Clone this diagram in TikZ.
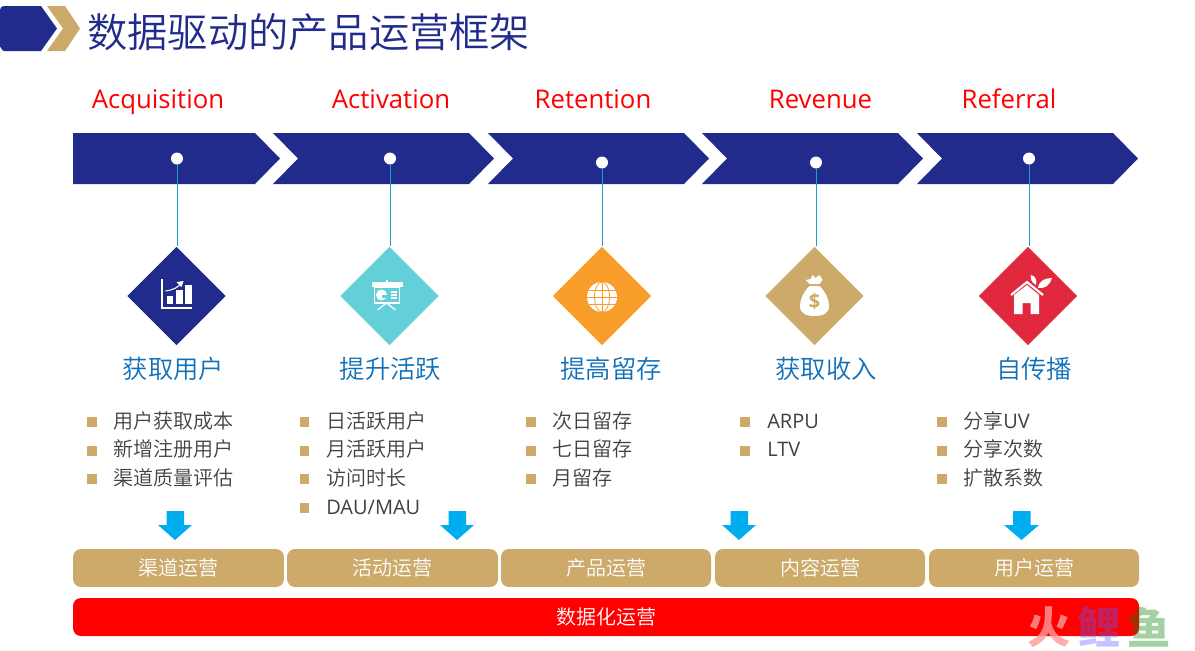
\documentclass[tikz,border=0pt]{standalone}
\usepackage{fontspec}
\setmainfont{Noto Sans CJK SC DemiLight}
\newfontfamily\latinfont{Open Sans}
\newfontfamily\markfont{Noto Sans CJK SC Black}
\usetikzlibrary{shapes.geometric}
\definecolor{navy}{HTML}{212B8B}
\definecolor{gold}{HTML}{CDA96A}
\definecolor{teal}{HTML}{62CFD9}
\definecolor{amber}{HTML}{F99D2A}
\definecolor{rose}{HTML}{E2283C}
\definecolor{skyblue}{HTML}{00ADEF}
\definecolor{linkblue}{HTML}{1C9FC8}
\definecolor{headblue}{HTML}{0F6FB7}
\definecolor{itemgray}{HTML}{404040}
\tikzset{
  stagelabel/.style={anchor=base, text=red, font=\latinfont\fontsize{19.3}{24}\selectfont},
  dotnode/.style={circle, fill=white, inner sep=0pt, minimum size=9pt},
  iconbox/.style={diamond, aspect=1, inner sep=0pt, minimum size=74pt},
  headlabel/.style={text=headblue, font=\fontsize{19}{22}\selectfont},
  bulletbox/.style={fill=gold, inner sep=0pt, minimum size=6.8pt},
  itemlabel/.style={anchor=west, inner sep=0pt, text=itemgray, font=\fontsize{15}{18}\selectfont},
  barbox/.style={fill=gold, rounded corners=6pt, inner sep=0pt, minimum height=28.5pt, text=white, font=\fontsize{15}{18}\selectfont},
  downarrow/.style={fill=skyblue},
  linkline/.style={draw=linkblue, line width=0.7pt},
  markchar/.style={inner sep=0pt, font=\markfont\fontsize{32.5}{36}\selectfont}
}
\begin{document}
\begin{tikzpicture}[x=0.75pt,y=-0.75pt]
  \useasboundingbox (0,0) rectangle (1195,650);
  % title
  \fill[navy] (4,6) -- (41,6) -- (57,28.5) -- (41,51) -- (4,51) to[out=180,in=90] (0,47) -- (0,10) to[out=90,in=180] (4,6) -- cycle;
  \fill[gold] (47,6) -- (65,6) -- (80,28.5) -- (65,51) -- (47,51) -- (63,28.5) -- cycle;
  \node[anchor=west, inner sep=0pt, text=navy, font=\fontsize{30.2}{34}\selectfont] (title) at (87,32) {数据驱动的产品运营框架};
  % stage names
  \node[stagelabel] (acq) at (158,108) {Acquisition};
  \node[stagelabel] (act) at (391,108) {Activation};
  \node[stagelabel] (ret) at (593,108) {Retention};
  \node[stagelabel] (rev) at (820.5,108) {Revenue};
  \node[stagelabel] (ref) at (1009,108) {Referral};
  % chevrons
  \fill[navy] (73,133) -- (255,133) -- (280,158.5) -- (255,184) -- (73,184) -- cycle;
  \fill[navy] (273,133) -- (469,133) -- (494,158.5) -- (469,184) -- (273,184) -- (298,158.5) -- cycle;
  \fill[navy] (488,133) -- (684,133) -- (709,158.5) -- (684,184) -- (488,184) -- (513,158.5) -- cycle;
  \fill[navy] (702,133) -- (898,133) -- (923,158.5) -- (898,184) -- (702,184) -- (727,158.5) -- cycle;
  \fill[navy] (917,133) -- (1113,133) -- (1138,158.5) -- (1113,184) -- (917,184) -- (942,158.5) -- cycle;
  % dots
  \node[dotnode] (dota) at (177,158.5) {};
  \node[dotnode] (dotb) at (390,158.5) {};
  \node[dotnode] (dotc) at (602,162.5) {};
  \node[dotnode] (dotd) at (816,162.5) {};
  \node[dotnode] (dote) at (1029,158.5) {};
  % diamonds
  \node[iconbox, fill=navy] (icona) at (176.5,296) {};
  \node[iconbox, fill=teal] (iconb) at (389.5,296) {};
  \node[iconbox, fill=amber] (iconc) at (602,296) {};
  \node[iconbox, fill=gold] (icond) at (814.5,296) {};
  \node[iconbox, fill=rose] (icone) at (1028,296) {};
  \draw[linkline] (dota) -- (dota |- icona.north);
  \draw[linkline] (dotb) -- (dotb |- iconb.north);
  \draw[linkline] (dotc) -- (dotc |- iconc.north);
  \draw[linkline] (dotd) -- (dotd |- icond.north);
  \draw[linkline] (dote) -- (dote |- icone.north);
  % chart icon
  \begin{scope}[shift={(icona)}]
  \draw[white, line width=1.5pt] (-15,-17) -- (-15,12) -- (15,12);
  \fill[white] (-10,0) rectangle (-4,8);
  \fill[white] (-1,-6) rectangle (6,8);
  \fill[white] (8,-11) rectangle (15,8);
  \draw[white, line width=0.8pt] (-11,-5) .. controls (-3,-6) and (2,-9) .. (5,-13);
  \fill[white] (7,-15) -- (0,-14) -- (5,-9) -- cycle;
  \end{scope}
  % screen icon
  \begin{scope}[shift={(iconb)}]
  \fill[white] (-18,-14) rectangle (13,-9);
  \fill[white] (-3.2,-16) rectangle (-1.8,-14);
  \draw[white, line width=1pt] (-15,-9) rectangle (10,7);
  \fill[white] (-8,-1) circle (5.5);
  \fill[teal] (-8,-1) rectangle (-2,2);
  \fill[white] (1,-5) rectangle (7,-3.4);
  \fill[white] (1,-2) rectangle (7,-0.4);
  \fill[white] (1,1) rectangle (7,2.6);
  \draw[white, line width=0.9pt] (-3,7) -- (-12,14);
  \draw[white, line width=0.9pt] (-3,7) -- (6,14);
  \end{scope}
  % globe icon
  \begin{scope}[shift={(iconc)}]
  \fill[white] (0,1) circle (15);
  \draw[amber, line width=0.6pt] (0,1) ellipse (7.5 and 15);
  \draw[amber, line width=0.6pt] (0,-14) -- (0,16);
  \draw[amber, line width=0.6pt] (-15,1) -- (15,1);
  \draw[amber, line width=0.6pt] (-13.5,-6) -- (13.5,-6);
  \draw[amber, line width=0.6pt] (-13.5,8) -- (13.5,8);
  \end{scope}
  % bag icon
  \begin{scope}[shift={(icond)}]
  \fill[white] (-5,-10) .. controls (-11,-4) and (-14.5,3) .. (-14.5,10) .. controls (-14.5,17) and (-9,20) .. (0,20) .. controls (9,20) and (14.5,17) .. (14.5,10) .. controls (14.5,3) and (11,-4) .. (5,-10) -- cycle;
  \fill[white] (-5,-12) -- (-9,-16) -- (-4,-17) -- (-2,-21) -- (1,-18) -- (5,-21) -- (8,-16) -- (5,-12) -- cycle;
  \node[text=gold, inner sep=0pt, font=\latinfont\bfseries\fontsize{15}{16}\selectfont] (dollar) at (0,5) {\$};
  \end{scope}
  % house icon
  \begin{scope}[shift={(icone)}]
  \draw[white, line width=1.6pt] (-17,-1) -- (-1,-14) -- (15,-1);
  \fill[white] (-14,-1) -- (-1,-11) -- (11,-1) -- (11,18) -- (2.5,18) -- (2.5,7) -- (-5.5,7) -- (-5.5,18) -- (-14,18) -- cycle;
  \fill[white] (3,-21) .. controls (8,-20) and (9,-15) .. (8,-11) .. controls (4,-13) and (2,-17) .. (3,-21) -- cycle;
  \fill[white] (24,-18) .. controls (18,-18) and (11,-16) .. (10,-8) .. controls (17,-7) and (22,-11) .. (24,-18) -- cycle;
  \end{scope}
  % headings
  \node[headlabel] (heada) at (173.5,369) {获取用户};
  \node[headlabel] (headb) at (390.5,369) {提升活跃};
  \node[headlabel] (headc) at (611,369) {提高留存};
  \node[headlabel] (headd) at (826,369) {获取收入};
  \node[headlabel] (heade) at (1034,369) {自传播};
  % lists
  \node[bulletbox] (ba1) at (92,422) {};
  \node[bulletbox] (ba2) at (92,451) {};
  \node[bulletbox] (ba3) at (92,479) {};
  \node[itemlabel] (ia1) at (113,421) {用户获取成本};
  \node[itemlabel] (ia2) at (113,449) {新增注册用户};
  \node[itemlabel] (ia3) at (113,478) {渠道质量评估};
  \node[bulletbox] (bb1) at (304.5,422) {};
  \node[bulletbox] (bb2) at (304.5,451) {};
  \node[bulletbox] (bb3) at (304.5,479) {};
  \node[bulletbox] (bb4) at (304.5,508) {};
  \node[itemlabel] (ib1) at (326,421) {日活跃用户};
  \node[itemlabel] (ib2) at (326,449) {月活跃用户};
  \node[itemlabel] (ib3) at (326,478) {访问时长};
  \node[itemlabel] (ib4) at (326,507) {\latinfont DAU/MAU};
  \node[bulletbox] (bc1) at (531,422) {};
  \node[bulletbox] (bc2) at (531,451) {};
  \node[bulletbox] (bc3) at (531,479) {};
  \node[itemlabel] (ic1) at (552,421) {次日留存};
  \node[itemlabel] (ic2) at (552,449) {七日留存};
  \node[itemlabel] (ic3) at (552,478) {月留存};
  \node[bulletbox] (bd1) at (745,422) {};
  \node[bulletbox] (bd2) at (745,451) {};
  \node[itemlabel] (id1) at (767,421) {\latinfont ARPU};
  \node[itemlabel] (id2) at (767,449) {\latinfont LTV};
  \node[bulletbox] (be1) at (942,422) {};
  \node[bulletbox] (be2) at (942,451) {};
  \node[bulletbox] (be3) at (942,479) {};
  \node[itemlabel] (ie1) at (963,421) {分享{\latinfont UV}};
  \node[itemlabel] (ie2) at (963,449) {分享次数};
  \node[itemlabel] (ie3) at (963,478) {扩散系数};
  % blue arrows
  \fill[downarrow] (166.5,511) -- (184,511) -- (184,525) -- (192,525) -- (175,540) -- (158,525) -- (166.5,525) -- cycle;
  \fill[downarrow] (448.5,511) -- (466,511) -- (466,525) -- (474,525) -- (457,540) -- (440,525) -- (448.5,525) -- cycle;
  \fill[downarrow] (730.5,511) -- (748,511) -- (748,525) -- (756,525) -- (739,540) -- (722,525) -- (730.5,525) -- cycle;
  \fill[downarrow] (1013,511) -- (1030.5,511) -- (1030.5,525) -- (1039,525) -- (1021.5,540) -- (1004,525) -- (1013,525) -- cycle;
  % bars
  \node[barbox, minimum width=158.2pt] (bara) at (178.5,568) {渠道运营};
  \node[barbox, minimum width=158.2pt] (barb) at (392.5,568) {活动运营};
  \node[barbox, minimum width=157.5pt] (barc) at (606,568) {产品运营};
  \node[barbox, minimum width=157.5pt] (bard) at (820,568) {内容运营};
  \node[barbox, minimum width=157.5pt] (bare) at (1034,568) {用户运营};
  \node[barbox, fill=red, minimum width=799.5pt] (barall) at (606,617) {数据化运营};
  % watermark
  \node[markchar, text=red!40!white, opacity=0.8] (marka) at (1049,627) {火};
  \node[markchar, text=blue!65!white, opacity=0.36] (markb) at (1099,627) {鲤};
  \node[markchar, text=green!50!black, opacity=0.36] (markc) at (1149,627) {鱼};
\end{tikzpicture}
\end{document}
